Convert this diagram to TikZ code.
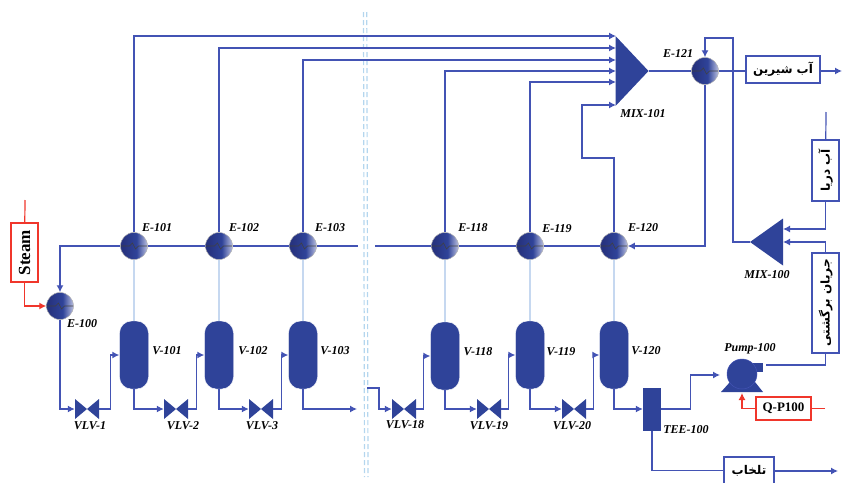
\documentclass[tikz,border=0pt]{standalone}
\usepackage{xcolor}
\usepackage{fontspec}
\setmainfont{Liberation Serif}
\newfontfamily\farsifont[Script=Arabic]{DejaVu Sans}
\TeXXeTstate=1
\usepackage{tikz}
\usetikzlibrary{arrows.meta, calc}
\definecolor{flowblue}{HTML}{4353B4}
\definecolor{unitblue}{HTML}{2F4399}
\definecolor{darkhx}{HTML}{27337F}
\definecolor{palehx}{HTML}{BCC1E0}
\definecolor{tieblue}{HTML}{C6D8F0}
\definecolor{breakblue}{HTML}{B4D6EE}
\definecolor{heatred}{HTML}{F0362B}
\pgfdeclarehorizontalshading{hxshade}{100bp}{
  color(0bp)=(darkhx); color(30bp)=(darkhx); color(55bp)=(unitblue);
  color(75bp)=(palehx); color(100bp)=(palehx)}
\tikzset{
  flow/.style={draw=flowblue, line width=1.2pt},
  flowto/.style={flow, -{Latex[length=7pt,width=7pt]}},
  heat/.style={draw=heatred, line width=1.2pt},
  heatto/.style={heat, -{Latex[length=7pt,width=7pt]}},
  tieline/.style={draw=tieblue, line width=1.2pt},
  breakline/.style={draw=breakblue, line width=1.2pt, dash pattern=on 5pt off 3pt},
  tag/.style={font=\bfseries\itshape\fontsize{12}{12}\selectfont, text=black, inner sep=0pt},
  hx/.style={circle, draw=black!30, line width=0.5pt, minimum size=27pt, inner sep=0pt,
    shading=hxshade,
    path picture={
      \draw[black!75, line width=0.6pt] (path picture bounding box.west) -- ++(9pt,0pt) -- ++(3pt,3pt)
        -- ++(3pt,-6pt) -- ++(3pt,3pt) -- (path picture bounding box.east);}},
  vessel/.style={fill=unitblue, draw=white, line width=0.4pt, rounded corners=12pt,
    minimum width=29pt, minimum height=68pt, inner sep=0pt},
  valve/.style={minimum width=24pt, minimum height=20pt, inner sep=0pt,
    path picture={
      \fill[unitblue] (path picture bounding box.north west) -- (path picture bounding box.center)
        -- (path picture bounding box.south west) -- cycle;
      \fill[unitblue] (path picture bounding box.north east) -- (path picture bounding box.center)
        -- (path picture bounding box.south east) -- cycle;}},
  mixright/.style={inner sep=0pt, path picture={
      \fill[unitblue] (path picture bounding box.north west) -- (path picture bounding box.east)
        -- (path picture bounding box.south west) -- cycle;}},
  mixleft/.style={inner sep=0pt, path picture={
      \fill[unitblue] (path picture bounding box.north east) -- (path picture bounding box.west)
        -- (path picture bounding box.south east) -- cycle;}},
  stream/.style={draw=flowblue, fill=white, line width=1.2pt, inner sep=0pt},
  utility/.style={draw=heatred, fill=white, line width=1.2pt, inner sep=0pt, font=\bfseries\fontsize{17}{17}\selectfont},
  farsi/.style={font=\farsifont\bfseries\fontsize{12}{12}\selectfont}
}
\begin{document}
\begin{tikzpicture}[x=1pt, y=-1pt]
  \useasboundingbox (0,0) rectangle (842,482);
  \draw[breakline] (363.5,12) -- (364.5,477);
  \draw[breakline] (366.8,12) -- (368,477);

  \node[hx] (e100) at (60,306) {};
  \node[hx] (e101) at (134,246) {};
  \node[hx] (e102) at (219,246) {};
  \node[hx] (e103) at (303,246) {};
  \node[hx] (e118) at (445,246) {};
  \node[hx] (e119) at (530,246) {};
  \node[hx] (e120) at (614,246) {};
  \node[hx] (e121) at (705,71) {};

  \node[vessel] (v101) at (134,355) {};
  \node[vessel] (v102) at (219,355) {};
  \node[vessel] (v103) at (303,355) {};
  \node[vessel] (v118) at (445,356) {};
  \node[vessel] (v119) at (530,355) {};
  \node[vessel] (v120) at (614,355) {};

  \node[valve] (vlv1) at (87,409) {};
  \node[valve] (vlv2) at (176,409) {};
  \node[valve] (vlv3) at (261,409) {};
  \node[valve] (vlv18) at (404,409) {};
  \node[valve] (vlv19) at (489,409) {};
  \node[valve] (vlv20) at (574,409) {};

  \node[mixright, minimum width=33pt, minimum height=70pt] (mix101) at (632,71) {};
  \node[mixleft, minimum width=33pt, minimum height=47pt] (mix100) at (766.5,242) {};
  \node[fill=unitblue, minimum width=18pt, minimum height=43pt, inner sep=0pt] (tee100) at (652,409) {};

  \fill[unitblue] (721,392) -- (730,382) -- (755,382) -- (763,392) -- cycle;
  \fill[unitblue] (748,363) rectangle (763,372);
  \node[circle, fill=unitblue, draw=flowblue, line width=0.5pt, minimum size=30pt, inner sep=0pt] (pump100) at (742,374) {};

  \node[stream, minimum width=74pt, minimum height=27pt, farsi] (fresh) at (783,69.5) {\beginR آب شیرین\endR};
  \node[stream, minimum width=27pt, minimum height=61pt] (sea) at (825.5,170.5) {\rotatebox{90}{\farsifont\bfseries\fontsize{12}{12}\selectfont\beginR آب دریا\endR}};
  \node[stream, minimum width=27pt, minimum height=100pt] (recycle) at (825.5,303) {\rotatebox{90}{\farsifont\bfseries\fontsize{12}{12}\selectfont\beginR جریان برگشتی\endR}};
  \node[stream, minimum width=50pt, minimum height=27pt, farsi] (brine) at (749,470.5) {\beginR تلخاب\endR};
  \node[utility, minimum width=27pt, minimum height=59pt] (steam) at (24.5,252.5) {\rotatebox{90}{Steam}};
  \node[utility, minimum width=55pt, minimum height=23pt, font=\bfseries\fontsize{13}{13}\selectfont] (qp100) at (783.5,408.5) {Q-P100};

  \coordinate (steamin) at (25,200);
  \coordinate (seain) at (826,112);
  \coordinate (qpout) at (825,408.5);
  \coordinate (freshout) at (842,71);
  \coordinate (brineout) at (838,471);
  \coordinate (mainin) at (375,246);
  \coordinate (mainout) at (358,246);
  \coordinate (cutin) at (367,388);
  \coordinate (cutout) at (357,409);
  \coordinate (pumpin) at (720,375);
  \coordinate (pumpout) at (766,365);
  \coordinate (pumpheat) at (742,393);

  \draw[heat] (steamin) -- (steam);
  \draw[heatto] (steam.south) |- (e100.west);
  \draw[heat] (qpout) -- (qp100);
  \draw[heatto] (qp100.west) -| (pumpheat);

  \draw[flow] (e101) -- (e102);
  \draw[flow] (e102) -- (e103);
  \draw[flow] (e103) -- (mainout);
  \draw[flow] (mainin) -- (e118);
  \draw[flow] (e118) -- (e119);
  \draw[flow] (e119) -- (e120);
  \draw[flowto] (e101.west) -| (e100.north);
  \draw[flowto] (e100.south) |- (vlv1.west);

  \draw[tieline] (e101) -- (v101);
  \draw[tieline] (e102) -- (v102);
  \draw[tieline] (e103) -- (v103);
  \draw[tieline] (e118) -- (v118);
  \draw[tieline] (e119) -- (v119);
  \draw[tieline] (e120) -- (v120);

  \draw[flowto] (vlv1.east) -- ++(11,0) |- (v101.west);
  \draw[flowto] (vlv2.east) -- ++(8,0) |- (v102.west);
  \draw[flowto] (vlv3.east) -- ++(8,0) |- (v103.west);
  \draw[flowto] (vlv18.east) -- ++(7,0) |- (v118.west);
  \draw[flowto] (vlv19.east) -- ++(7,0) |- (v119.west);
  \draw[flowto] (vlv20.east) -- ++(7,0) |- (v120.west);
  \draw[flowto] (v101.south) |- (vlv2.west);
  \draw[flowto] (v102.south) |- (vlv3.west);
  \draw[flowto] (v103.south) |- (cutout);
  \draw[flowto] (cutin) -- ++(12,0) |- (vlv18.west);
  \draw[flowto] (v118.south) |- (vlv19.west);
  \draw[flowto] (v119.south) |- (vlv20.west);
  \draw[flowto] (v120.south) |- (tee100.west);

  \coordinate (mixa) at (616,36);
  \coordinate (mixb) at (616,48);
  \coordinate (mixc) at (616,60);
  \coordinate (mixd) at (616,71);
  \coordinate (mixe) at (616,82);
  \coordinate (mixf) at (616,105);
  \draw[flowto] (e101.north) |- (mixa);
  \draw[flowto] (e102.north) |- (mixb);
  \draw[flowto] (e103.north) |- (mixc);
  \draw[flowto] (e118.north) |- (mixd);
  \draw[flowto] (e119.north) |- (mixe);
  \draw[flowto] (e120.north) -- (614,158) -- (582,158) |- (mixf);

  \draw[flow] (mix101.east) -- (e121);
  \draw[flow] (e121) -- (fresh.west |- e121);
  \draw[flowto] (fresh.east |- freshout) -- (freshout);
  \draw[flowto] (e121.south) |- (e120.east);
  \draw[flowto] (mix100.west) -| (733,38) -| (e121.north);

  \coordinate (mixg) at (783,229);
  \coordinate (mixh) at (783,242);
  \draw[flow] (seain) -- (sea);
  \draw[flowto] (sea.south) |- (mixg);
  \draw[flowto] (recycle.north) |- (mixh);
  \draw[flow] (recycle.south) |- (pumpout);

  \draw[flowto] (tee100.east) -- ++(29,0) |- (pumpin);
  \draw[flow] (tee100.south) |- (brine.west);
  \draw[flowto] (brine.east |- brineout) -- (brineout);

  \node[tag] (tage100) at (82,324) {E-100};
  \node[tag] (tage101) at (157,228) {E-101};
  \node[tag] (tage102) at (244,228) {E-102};
  \node[tag] (tage103) at (330,228) {E-103};
  \node[tag] (tage118) at (473,228) {E-118};
  \node[tag] (tage119) at (557,229) {E-119};
  \node[tag] (tage120) at (643,228) {E-120};
  \node[tag] (tage121) at (678,54) {E-121};
  \node[tag] (tagv101) at (167,351) {V-101};
  \node[tag] (tagv102) at (253,351) {V-102};
  \node[tag] (tagv103) at (335,351) {V-103};
  \node[tag] (tagv118) at (478,352) {V-118};
  \node[tag] (tagv119) at (561,352) {V-119};
  \node[tag] (tagv120) at (646,351) {V-120};
  \node[tag] (tagvlv1) at (90,426) {VLV-1};
  \node[tag] (tagvlv2) at (183,426) {VLV-2};
  \node[tag] (tagvlv3) at (262,426) {VLV-3};
  \node[tag] (tagvlv18) at (405,425) {VLV-18};
  \node[tag] (tagvlv19) at (489,426) {VLV-19};
  \node[tag] (tagvlv20) at (572,426) {VLV-20};
  \node[tag] (tagtee) at (686,430) {TEE-100};
  \node[tag] (tagpump) at (750,349) {Pump-100};
  \node[tag] (tagmix100) at (767,275) {MIX-100};
  \node[tag] (tagmix101) at (643,114) {MIX-101};
\end{tikzpicture}
\end{document}
